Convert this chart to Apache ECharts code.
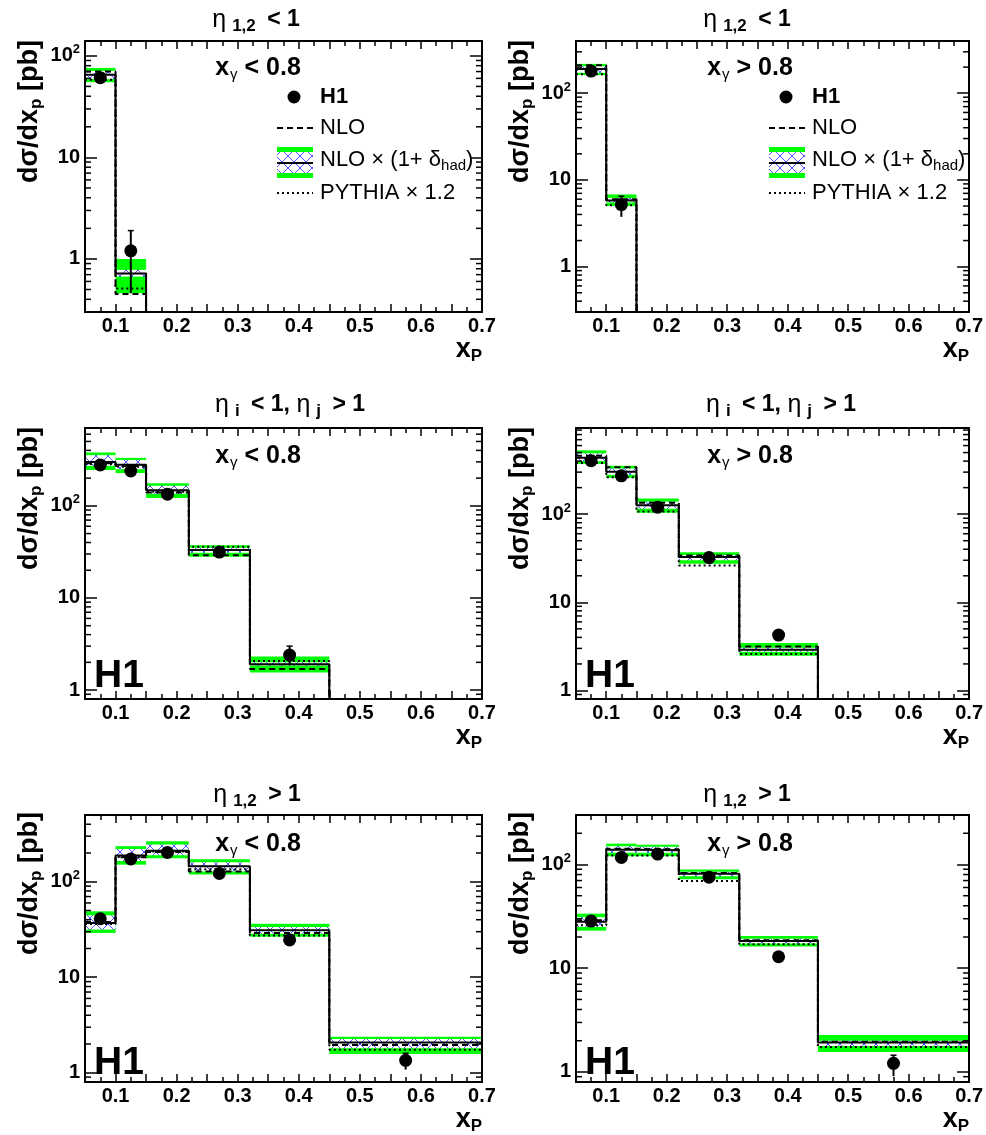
<!DOCTYPE html>
<html><head><meta charset="utf-8">
<script src="https://cdn.jsdelivr.net/npm/echarts@6/dist/echarts.min.js"></script>
<style>html,body{margin:0;padding:0;background:#fff}#c{width:986px;height:1135px}</style>
</head><body><div id="c"></div>
<script>
// ---------------- DATA ----------------
const binEdges = [0.05, 0.1, 0.15, 0.22, 0.32, 0.45, 0.7];
const binCenters = [0.075, 0.125, 0.185, 0.27, 0.385, 0.575];
const xTickLabels = ['0.1', '0.2', '0.3', '0.4', '0.5', '0.6', '0.7'];
const yTickLabels = { '1': '1', '10': '10', '100': '10{sup|2}' };

// Panel 1: eta_1,2 < 1, x_gamma < 0.8
const p1_h1 = [61, 1.2];
const p1_h1Lo = [57, 0.46];
const p1_h1Hi = [66, 1.9];
const p1_nlo = [70, 0.45, 0, 0, 0, 0];
const p1_nloHad = [65, 0.72, 0, 0, 0, 0];
const p1_pythia = [58, 0.51, 0, 0, 0, 0];
const p1_totLo = [55, 0.46];
const p1_totHi = [76, 1.0];
const p1_hadLo = [59, 0.67];
const p1_hadHi = [71, 0.78];

// Panel 2: eta_1,2 < 1, x_gamma > 0.8
const p2_h1 = [180, 5.2];
const p2_h1Lo = [165, 3.75];
const p2_h1Hi = [195, 6.5];
const p2_nlo = [210, 6.0, 0, 0, 0, 0];
const p2_nloHad = [190, 5.8, 0, 0, 0, 0];
const p2_pythia = [165, 5.1, 0, 0, 0, 0];
const p2_totLo = [162, 5.0];
const p2_totHi = [218, 6.8];
const p2_hadLo = [172, 5.5];
const p2_hadHi = [205, 6.2];

// Panel 3: eta_i < 1, eta_j > 1, x_gamma < 0.8
const p3_h1 = [278, 239, 134, 31.5, 2.4];
const p3_h1Lo = [260, 222, 124, 29, 1.85];
const p3_h1Hi = [296, 256, 145, 34, 3.0];
const p3_nlo = [290, 270, 140, 29.0, 1.69, 0];
const p3_nloHad = [300, 280, 148, 33.2, 1.91, 0];
const p3_pythia = [285, 265, 142, 36.0, 2.07, 0];
const p3_totLo = [245, 227, 122, 28.1, 1.55];
const p3_totHi = [380, 332, 176, 37.4, 2.31];
const p3_hadLo = [272, 250, 135, 31.0, 1.85];
const p3_hadHi = [355, 315, 165, 35.0, 2.0];

// Panel 4: eta_i < 1, eta_j > 1, x_gamma > 0.8
const p4_h1 = [405, 272, 120, 32.2, 4.25];
const p4_h1Lo = [385, 255, 112, 30, 3.9];
const p4_h1Hi = [425, 290, 128, 34.5, 4.6];
const p4_nlo = [460, 340, 135, 34, 3.15, 0];
const p4_nloHad = [437, 302, 126, 32.6, 2.89, 0];
const p4_pythia = [380, 262, 107, 26.2, 2.6, 0];
const p4_totLo = [372, 258, 104, 27.4, 2.47];
const p4_totHi = [530, 354, 151, 37.1, 3.45];
const p4_hadLo = [400, 280, 115, 30.0, 2.75];
const p4_hadHi = [490, 330, 138, 34.5, 3.05];

// Panel 5: eta_1,2 > 1, x_gamma < 0.8
const p5_h1 = [41, 173, 203, 122, 24.6, 1.35];
const p5_h1Lo = [38, 162, 190, 113, 22.8, 1.08];
const p5_h1Hi = [44, 185, 217, 131, 26.5, 1.6];
const p5_nlo = [38, 180, 205, 128, 29, 1.95];
const p5_nloHad = [36.9, 188, 211, 145, 31, 2.07];
const p5_pythia = [36, 182, 208, 135, 27.3, 1.74];
const p5_totLo = [29.1, 151, 176, 119, 26.5, 1.57];
const p5_totHi = [49, 236, 266, 172, 36.4, 2.38];
const p5_hadLo = [31.6, 165, 190, 128, 28.5, 1.8];
const p5_hadHi = [44.5, 220, 245, 160, 33.5, 2.25];

// Panel 6: eta_1,2 > 1, x_gamma > 0.8
const p6_h1 = [28.5, 117, 126, 75.5, 12.9, 1.21];
const p6_h1Lo = [26.5, 109, 117, 70, 12, 0.91];
const p6_h1Hi = [30.5, 125, 135, 81, 13.8, 1.45];
const p6_nlo = [29, 142, 140, 83, 18.6, 1.95];
const p6_nloHad = [28, 139, 137, 81.5, 18.3, 1.92];
const p6_pythia = [26, 122, 122, 69.5, 17.0, 1.74];
const p6_totLo = [23, 120, 120, 72.1, 16.2, 1.56];
const p6_totHi = [33.6, 159, 155, 89.7, 20.5, 2.27];
const p6_hadLo = [25, 130, 130, 77, 17.3, 1.78];
const p6_hadHi = [31, 150, 148, 85, 19.2, 2.0];

const panelTitles = [
  '{g|η}{s|1,2}{b| < 1}', '{g|η}{s|1,2}{b| < 1}',
  '{g|η}{s|i}{b| < 1, }{g|η}{s|j}{b| > 1}', '{g|η}{s|i}{b| < 1, }{g|η}{s|j}{b| > 1}',
  '{g|η}{s|1,2}{b| > 1}', '{g|η}{s|1,2}{b| > 1}'
];
const panelCuts = [
  '{b|x}{s|γ}{b| < 0.8}', '{b|x}{s|γ}{b| > 0.8}',
  '{b|x}{s|γ}{b| < 0.8}', '{b|x}{s|γ}{b| > 0.8}',
  '{b|x}{s|γ}{b| < 0.8}', '{b|x}{s|γ}{b| > 0.8}'
];
const yRanges = [[0.3, 140], [0.3, 400], [0.8, 700], [0.8, 950], [0.8, 500], [0.8, 300]];
const legendLabels = ['H1', 'NLO', '{t|NLO × (1+ δ}{s|had}{t|)}', 'PYTHIA × 1.2'];

// ---------------- LAYOUT ----------------
const layout = [
  { left: 85, top: 41, width: 397, height: 271, titleX: 256, titleY: 20, cutX: 258, cutY: 68 },
  { left: 576, top: 41, width: 397, height: 271, titleX: 747, titleY: 20, cutX: 750, cutY: 68 },
  { left: 85, top: 428, width: 397, height: 271, titleX: 290, titleY: 405, cutX: 258, cutY: 456, logoY: 676 },
  { left: 576, top: 428, width: 397, height: 271, titleX: 781, titleY: 405, cutX: 750, cutY: 456, logoY: 676 },
  { left: 85, top: 815, width: 397, height: 272, titleX: 257, titleY: 795, cutX: 258, cutY: 844, logoY: 1063 },
  { left: 576, top: 815, width: 397, height: 272, titleX: 747, titleY: 795, cutX: 750, cutY: 844, logoY: 1063 }
];

const panels = [
  { h1: p1_h1, lo: p1_h1Lo, hi: p1_h1Hi, nlo: p1_nlo, had: p1_nloHad, py: p1_pythia, tLo: p1_totLo, tHi: p1_totHi, hLo: p1_hadLo, hHi: p1_hadHi },
  { h1: p2_h1, lo: p2_h1Lo, hi: p2_h1Hi, nlo: p2_nlo, had: p2_nloHad, py: p2_pythia, tLo: p2_totLo, tHi: p2_totHi, hLo: p2_hadLo, hHi: p2_hadHi },
  { h1: p3_h1, lo: p3_h1Lo, hi: p3_h1Hi, nlo: p3_nlo, had: p3_nloHad, py: p3_pythia, tLo: p3_totLo, tHi: p3_totHi, hLo: p3_hadLo, hHi: p3_hadHi },
  { h1: p4_h1, lo: p4_h1Lo, hi: p4_h1Hi, nlo: p4_nlo, had: p4_nloHad, py: p4_pythia, tLo: p4_totLo, tHi: p4_totHi, hLo: p4_hadLo, hHi: p4_hadHi },
  { h1: p5_h1, lo: p5_h1Lo, hi: p5_h1Hi, nlo: p5_nlo, had: p5_nloHad, py: p5_pythia, tLo: p5_totLo, tHi: p5_totHi, hLo: p5_hadLo, hHi: p5_hadHi },
  { h1: p6_h1, lo: p6_h1Lo, hi: p6_h1Hi, nlo: p6_nlo, had: p6_nloHad, py: p6_pythia, tLo: p6_totLo, tHi: p6_totHi, hLo: p6_hadLo, hHi: p6_hadHi }
];

// ---------------- STYLE ----------------
const FONT = 'Liberation Sans, Arial, Helvetica, sans-serif';
const GREEN = '#00ff00';
const FLOOR = 1e-3; // empty bins drawn below the axis floor
const hatch = (function () {
  const c = document.createElement('canvas');
  c.width = 12; c.height = 12;
  const g = c.getContext('2d');
  g.fillStyle = '#ffffff'; g.fillRect(0, 0, 12, 12);
  g.strokeStyle = '#2828ff'; g.lineWidth = 0.8;
  g.beginPath(); g.moveTo(0, 0); g.lineTo(12, 12); g.moveTo(12, 0); g.lineTo(0, 12); g.stroke();
  return { image: c, repeat: 'repeat' };
})();

const chart = echarts.init(document.getElementById('c'), null, { renderer: 'canvas' });

const grids = [], xAxes = [], yAxes = [], series = [], graphics = [];
const titleRich = {
  g: { fontFamily: FONT, fontSize: 25, color: '#000' },
  s: { fontFamily: FONT, fontSize: 17, fontWeight: 'bold', color: '#000', padding: [13, 5, 0, 6] },
  b: { fontFamily: FONT, fontSize: 23, fontWeight: 'bold', color: '#000' }
};
const cutRich = {
  b: { fontFamily: FONT, fontSize: 25, fontWeight: 'bold', color: '#000' },
  s: { fontFamily: FONT, fontSize: 15, color: '#000', padding: [14, 0, 0, 1] }
};

function stepData(vals) {
  const d = [];
  for (let i = 0; i < vals.length; i++) d.push([binEdges[i], vals[i] > 0 ? vals[i] : FLOOR]);
  const last = vals[vals.length - 1];
  d.push([binEdges[vals.length], last > 0 ? last : FLOOR]);
  return d;
}

function xLabel(v) {
  const t = (Math.round(v * 10) / 10).toFixed(1);
  return (Math.abs(v * 10 - Math.round(v * 10)) < 1e-6 && xTickLabels.indexOf(t) >= 0) ? t : '';
}
function yLabel(v) {
  const e = Math.log10(v);
  if (Math.abs(e - Math.round(e)) > 1e-6) return '';
  const k = String(Math.round(Math.pow(10, Math.round(e))));
  return yTickLabels[k] || '';
}

const axisLineStyle = { color: '#000', width: 2 };
const tickStyle = { color: '#000', width: 1.5 };

panels.forEach((p, i) => {
  const L = layout[i];
  grids.push({ left: L.left, top: L.top, width: L.width, height: L.height });
  const xBase = {
    gridIndex: i, type: 'value', min: 0.05, max: 0.7, interval: 0.05, z: 10,
    axisLine: { show: true, onZero: false, lineStyle: axisLineStyle },
    axisTick: { show: true, inside: true, length: 8, lineStyle: tickStyle },
    minorTick: { show: true, splitNumber: 2, length: 5, lineStyle: tickStyle },
    splitLine: { show: false }, minorSplitLine: { show: false }
  };
  xAxes.push(Object.assign({}, xBase, {
    position: 'bottom',
    axisLabel: { show: true, margin: 4, color: '#000', fontFamily: FONT, fontWeight: 'bold', fontSize: 20, formatter: xLabel },
    name: '{x|x}{s|P}', nameLocation: 'end', nameGap: 0,
    nameTextStyle: {
      align: 'right', verticalAlign: 'top', padding: [22, 0, 0, 0],
      rich: {
        x: { fontFamily: FONT, fontSize: 27, fontWeight: 'bold', color: '#000' },
        s: { fontFamily: FONT, fontSize: 17, fontWeight: 'bold', color: '#000', padding: [14, 0, 0, 0] }
      }
    }
  }));
  xAxes.push(Object.assign({}, xBase, { position: 'top', axisLabel: { show: false } }));

  const yBase = {
    gridIndex: i, type: 'log', logBase: 10, min: yRanges[i][0], max: yRanges[i][1], z: 10,
    axisLine: { show: true, onZero: false, lineStyle: axisLineStyle },
    axisTick: { show: true, inside: true, length: 12, lineStyle: tickStyle },
    splitLine: { show: false }
  };
  yAxes.push(Object.assign({}, yBase, {
    position: 'left',
    axisLabel: {
      show: true, margin: 5, color: '#000', fontFamily: FONT, fontWeight: 'bold', fontSize: 20,
      showMinLabel: false, showMaxLabel: false, formatter: yLabel,
      rich: { sup: { fontFamily: FONT, fontWeight: 'bold', fontSize: 13, padding: [0, 0, 12, 0] } }
    },
    name: '{t|dσ/dx}{s|p}{t| [pb]}', nameLocation: 'middle', nameRotate: 90, nameGap: 40,
    nameTextStyle: {
      padding: [0, 0, 0, 130],
      rich: {
        t: { fontFamily: FONT, fontSize: 27, fontWeight: 'bold', color: '#000' },
        s: { fontFamily: FONT, fontSize: 17, fontWeight: 'bold', color: '#000', padding: [13, 0, 0, 0] }
      }
    }
  }));
  yAxes.push(Object.assign({}, yBase, { position: 'right', axisLabel: { show: false } }));

  const xi = 2 * i, yi = 2 * i;

  // uncertainty bands
  const bandData = p.tLo.map((v, k) => [binEdges[k], binEdges[k + 1], p.tLo[k], p.tHi[k], p.hLo[k], p.hHi[k]]);
  series.push({
    type: 'custom', name: 'NLO × (1+δhad) band', xAxisIndex: xi, yAxisIndex: yi, clip: true, z: 2,
    encode: { x: [0, 1], y: [2, 3, 4, 5] },
    data: bandData,
    renderItem: function (params, api) {
      const x0 = api.value(0), x1 = api.value(1);
      const a = api.coord([x0, api.value(3)]), b = api.coord([x1, api.value(2)]);
      const c = api.coord([x0, api.value(5)]), d = api.coord([x1, api.value(4)]);
      return {
        type: 'group', children: [
          { type: 'rect', shape: { x: a[0], y: a[1], width: b[0] - a[0], height: b[1] - a[1] }, style: { fill: GREEN } },
          { type: 'rect', shape: { x: c[0], y: c[1], width: d[0] - c[0], height: d[1] - c[1] }, style: { fill: hatch } }
        ]
      };
    }
  });

  // minor log ticks on left and right frame edges
  const minors = [];
  for (let e = -1; e <= 3; e++) for (let m = 2; m <= 9; m++) {
    const v = m * Math.pow(10, e);
    if (v > yRanges[i][0] && v < yRanges[i][1]) minors.push([0.05, v]);
  }
  series.push({
    type: 'custom', name: 'minor ticks', xAxisIndex: xi, yAxisIndex: yi, z: 11, silent: true,
    encode: { x: 0, y: 1 }, data: minors,
    renderItem: function (params, api) {
      const l = api.coord([0.05, api.value(1)]), r = api.coord([0.7, api.value(1)]);
      return {
        type: 'group', children: [
          { type: 'line', shape: { x1: l[0], y1: l[1], x2: l[0] + 6, y2: l[1] }, style: { stroke: '#000', lineWidth: 1.5 } },
          { type: 'line', shape: { x1: r[0], y1: r[1], x2: r[0] - 6, y2: r[1] }, style: { stroke: '#000', lineWidth: 1.5 } }
        ]
      };
    }
  });

  const lineBase = { type: 'line', step: 'end', xAxisIndex: xi, yAxisIndex: yi, showSymbol: false, symbol: 'none', clip: true, z: 3, animation: false };
  series.push(Object.assign({}, lineBase, { name: 'PYTHIA × 1.2', data: stepData(p.py), lineStyle: { color: '#000', width: 2, type: [2, 3] } }));
  series.push(Object.assign({}, lineBase, { name: 'NLO', data: stepData(p.nlo), lineStyle: { color: '#000', width: 2, type: [6, 4] } }));
  series.push(Object.assign({}, lineBase, { name: 'NLO × (1+δhad)', data: stepData(p.had), lineStyle: { color: '#000', width: 2, type: 'solid' } }));

  // error bars
  series.push({
    type: 'custom', name: 'H1 errors', xAxisIndex: xi, yAxisIndex: yi, clip: true, z: 4,
    encode: { x: 0, y: [1, 2] },
    data: p.h1.map((v, k) => [binCenters[k], p.lo[k], p.hi[k]]),
    renderItem: function (params, api) {
      const a = api.coord([api.value(0), api.value(2)]), b = api.coord([api.value(0), api.value(1)]);
      return {
        type: 'group', children: [
          { type: 'line', shape: { x1: a[0], y1: a[1], x2: b[0], y2: b[1] }, style: { stroke: '#000', lineWidth: 2 } },
          { type: 'line', shape: { x1: a[0] - 3, y1: a[1], x2: a[0] + 3, y2: a[1] }, style: { stroke: '#000', lineWidth: 1.5 } }
        ]
      };
    }
  });
  series.push({
    type: 'scatter', name: 'H1', xAxisIndex: xi, yAxisIndex: yi, z: 5,
    symbol: 'circle', symbolSize: 13, itemStyle: { color: '#000', opacity: 1 },
    data: p.h1.map((v, k) => [binCenters[k], v])
  });

  // texts
  graphics.push({ type: 'text', x: L.titleX, y: L.titleY, z: 20, style: { text: panelTitles[i], align: 'center', verticalAlign: 'middle', rich: titleRich } });
  graphics.push({ type: 'text', x: L.cutX, y: L.cutY, z: 20, style: { text: panelCuts[i], align: 'center', verticalAlign: 'middle', rich: cutRich } });
  if (L.logoY) {
    graphics.push({ type: 'text', x: L.left + 9, y: L.logoY, z: 20, style: { text: 'H1', fontFamily: FONT, fontSize: 39, fontWeight: 'bold', fill: '#000', align: 'left', verticalAlign: 'middle' } });
  }
});

// legends (top row)
[0, 492].forEach(dx => {
  const lx = 277 + dx, tx = 320 + dx;
  const txt = (y, s, bold) => ({ type: 'text', x: tx, y: y, z: 20, style: { text: s, fontFamily: FONT, fontSize: 22, fontWeight: bold ? 'bold' : 'normal', fill: '#000', align: 'left', verticalAlign: 'middle' } });
  graphics.push({ type: 'circle', z: 20, shape: { cx: 294 + dx, cy: 97, r: 6.5 }, style: { fill: '#000' } });
  graphics.push(txt(97, legendLabels[0], true));
  graphics.push({ type: 'line', z: 20, shape: { x1: lx, y1: 128, x2: lx + 36, y2: 128 }, style: { stroke: '#000', lineWidth: 2, lineDash: [6, 4] } });
  graphics.push(txt(128, legendLabels[1], false));
  graphics.push({ type: 'rect', z: 20, shape: { x: lx, y: 147, width: 36, height: 31 }, style: { fill: GREEN } });
  graphics.push({ type: 'rect', z: 20, shape: { x: lx, y: 152, width: 36, height: 21 }, style: { fill: hatch } });
  graphics.push({ type: 'line', z: 20, shape: { x1: lx, y1: 163, x2: lx + 36, y2: 163 }, style: { stroke: '#000', lineWidth: 2 } });
  graphics.push({
    type: 'text', x: tx, y: 160, z: 20, style: {
      text: legendLabels[2], align: 'left', verticalAlign: 'middle',
      rich: { t: { fontFamily: FONT, fontSize: 22, color: '#000' }, s: { fontFamily: FONT, fontSize: 15, color: '#000', padding: [12, 0, 0, 0] } }
    }
  });
  graphics.push({ type: 'line', z: 20, shape: { x1: lx, y1: 193, x2: lx + 36, y2: 193 }, style: { stroke: '#000', lineWidth: 2, lineDash: [2, 3] } });
  graphics.push(txt(193, legendLabels[3], false));
});

chart.setOption({
  animation: false,
  backgroundColor: '#fff',
  grid: grids, xAxis: xAxes, yAxis: yAxes, series: series, graphic: graphics
});
</script>
</body></html>
